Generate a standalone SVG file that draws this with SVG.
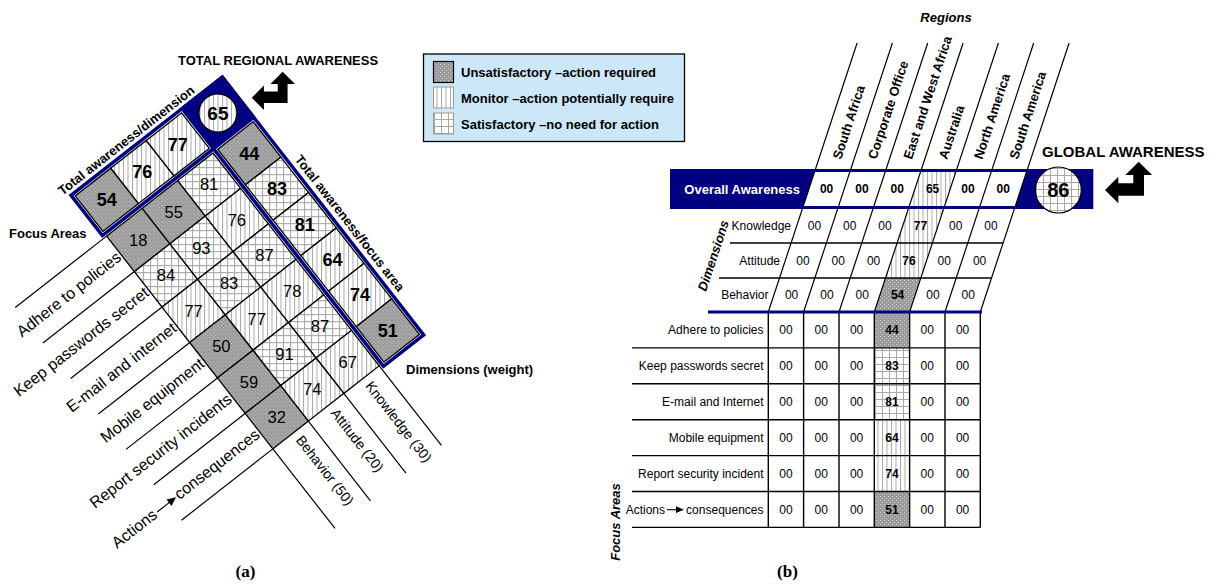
<svg xmlns="http://www.w3.org/2000/svg" width="1223" height="584" viewBox="0 0 1223 584">
<style>
text{font-family:"Liberation Sans",Arial,sans-serif;fill:#000}
.b{font-weight:bold}
.bi{font-weight:bold;font-style:italic}
.c{stroke:#000;stroke-width:1.3}
.ln{stroke:#000;stroke-width:1.2;fill:none}
.n{font-size:16.5px;text-anchor:middle}
.nb{font-size:18px;font-weight:bold;text-anchor:middle}
.fa{font-size:16px;text-anchor:end}
.dm{font-size:14px}
.t{font-size:12px;text-anchor:middle}
.tb{font-size:12px;font-weight:bold;text-anchor:middle}
.lab{font-size:12px;text-anchor:end}
.rg{font-size:13px;font-weight:bold}
.cap{font-family:"Liberation Serif","Times New Roman",serif;font-size:17px;font-weight:bold;text-anchor:middle}
</style>
<defs>
<pattern id="pU" width="4" height="4" patternUnits="userSpaceOnUse"><rect width="4" height="4" fill="#9a9a9a"/><rect width="1" height="1" fill="#d4d4d4"/><rect x="2" y="2" width="1" height="1" fill="#d4d4d4"/></pattern>
<pattern id="pM" width="4.5" height="10" patternUnits="userSpaceOnUse"><rect width="4.5" height="10" fill="#fff"/><rect width="1" height="10" fill="#a8a8a8"/></pattern>
<pattern id="pS" width="7" height="7" patternUnits="userSpaceOnUse"><rect width="7" height="7" fill="#fff"/><path d="M0,0.5H7M0.5,0V7" stroke="#a8a8a8" stroke-width="1"/></pattern>
<pattern id="pUr" href="#pU" patternTransform="rotate(-52)"/>
<pattern id="pMr" width="4.5" height="10" patternUnits="userSpaceOnUse" patternTransform="rotate(-52)"><rect width="4.5" height="10" fill="#fff"/><rect width="1" height="10" fill="#a8a8a8"/></pattern>
<pattern id="pSr" width="7" height="7" patternUnits="userSpaceOnUse" patternTransform="rotate(-52)"><rect width="7" height="7" fill="#fff"/><path d="M0,0.5H7M0.5,0V7" stroke="#a8a8a8" stroke-width="1"/></pattern>
<pattern id="pUr2" width="4" height="4" patternUnits="userSpaceOnUse" patternTransform="rotate(-52)"><rect width="4" height="4" fill="#9a9a9a"/><rect width="1" height="1" fill="#d4d4d4"/><rect x="2" y="2" width="1" height="1" fill="#d4d4d4"/></pattern>
<path id="arw" d="M0,28.3 L13.3,15 L13.3,21.6 L28.3,21.6 L28.3,13.3 L20.3,13.3 L33.7,0 L47.1,13.3 L39,13.3 L39,34 L13.3,34 L13.3,41.6 Z" fill="#000"/>
</defs>
<rect width="1223" height="584" fill="#fff"/>

<!-- Panel (a) -->
<g id="panel-a" transform="translate(213 153) rotate(52)">
 <g id="total-cell">
  <rect x="-55.75" y="-55.75" width="54.5" height="54.5" fill="#000080"/>
  <circle cx="-28.5" cy="-28.5" r="19" fill="url(#pMr)" stroke="#000" stroke-width="1.2"/>
  <text class="b" style="font-size:19px;text-anchor:middle" x="-28.5" y="-21.7" transform="rotate(-52 -28.5 -28.5)">65</text>
 </g>
 <g id="totals-focus">
  <rect class="c" x="0" y="-51" width="45" height="45" fill="url(#pUr2)"/>
  <rect class="c" x="45" y="-51" width="45" height="45" fill="url(#pSr)"/>
  <rect class="c" x="90" y="-51" width="45" height="45" fill="url(#pSr)"/>
  <rect class="c" x="135" y="-51" width="45" height="45" fill="url(#pMr)"/>
  <rect class="c" x="180" y="-51" width="45" height="45" fill="url(#pMr)"/>
  <rect class="c" x="225" y="-51" width="45" height="45" fill="url(#pUr2)"/>
  <text class="nb" x="22.5" y="-22.1" transform="rotate(-52 22.5 -28.5)">44</text>
  <text class="nb" x="67.5" y="-22.1" transform="rotate(-52 67.5 -28.5)">83</text>
  <text class="nb" x="112.5" y="-22.1" transform="rotate(-52 112.5 -28.5)">81</text>
  <text class="nb" x="157.5" y="-22.1" transform="rotate(-52 157.5 -28.5)">64</text>
  <text class="nb" x="202.5" y="-22.1" transform="rotate(-52 202.5 -28.5)">74</text>
  <text class="nb" x="247.5" y="-22.1" transform="rotate(-52 247.5 -28.5)">51</text>
 </g>
 <g id="totals-dimension">
  <rect class="c" x="-51" y="0" width="45" height="45" fill="url(#pMr)"/>
  <rect class="c" x="-51" y="45" width="45" height="45" fill="url(#pMr)"/>
  <rect class="c" x="-51" y="90" width="45" height="45" fill="url(#pUr2)"/>
  <text class="nb" x="-28.5" y="28.9" transform="rotate(-52 -28.5 22.5)">77</text>
  <text class="nb" x="-28.5" y="73.9" transform="rotate(-52 -28.5 67.5)">76</text>
  <text class="nb" x="-28.5" y="118.9" transform="rotate(-52 -28.5 112.5)">54</text>
 </g>
 <g id="cells">
  <rect class="c" x="0" y="0" width="45" height="45" fill="url(#pSr)"/>
  <rect class="c" x="45" y="0" width="45" height="45" fill="url(#pMr)"/>
  <rect class="c" x="90" y="0" width="45" height="45" fill="url(#pSr)"/>
  <rect class="c" x="135" y="0" width="45" height="45" fill="url(#pMr)"/>
  <rect class="c" x="180" y="0" width="45" height="45" fill="url(#pSr)"/>
  <rect class="c" x="225" y="0" width="45" height="45" fill="url(#pMr)"/>
  <rect class="c" x="0" y="45" width="45" height="45" fill="url(#pUr2)"/>
  <rect class="c" x="45" y="45" width="45" height="45" fill="url(#pSr)"/>
  <rect class="c" x="90" y="45" width="45" height="45" fill="url(#pSr)"/>
  <rect class="c" x="135" y="45" width="45" height="45" fill="url(#pMr)"/>
  <rect class="c" x="180" y="45" width="45" height="45" fill="url(#pSr)"/>
  <rect class="c" x="225" y="45" width="45" height="45" fill="url(#pMr)"/>
  <rect class="c" x="0" y="90" width="45" height="45" fill="url(#pUr2)"/>
  <rect class="c" x="45" y="90" width="45" height="45" fill="url(#pSr)"/>
  <rect class="c" x="90" y="90" width="45" height="45" fill="url(#pMr)"/>
  <rect class="c" x="135" y="90" width="45" height="45" fill="url(#pUr2)"/>
  <rect class="c" x="180" y="90" width="45" height="45" fill="url(#pUr2)"/>
  <rect class="c" x="225" y="90" width="45" height="45" fill="url(#pUr2)"/>
  <text class="n" x="22.5" y="28.4" transform="rotate(-52 22.5 22.5)">81</text>
  <text class="n" x="67.5" y="28.4" transform="rotate(-52 67.5 22.5)">76</text>
  <text class="n" x="112.5" y="28.4" transform="rotate(-52 112.5 22.5)">87</text>
  <text class="n" x="157.5" y="28.4" transform="rotate(-52 157.5 22.5)">78</text>
  <text class="n" x="202.5" y="28.4" transform="rotate(-52 202.5 22.5)">87</text>
  <text class="n" x="247.5" y="28.4" transform="rotate(-52 247.5 22.5)">67</text>
  <text class="n" x="22.5" y="73.4" transform="rotate(-52 22.5 67.5)">55</text>
  <text class="n" x="67.5" y="73.4" transform="rotate(-52 67.5 67.5)">93</text>
  <text class="n" x="112.5" y="73.4" transform="rotate(-52 112.5 67.5)">83</text>
  <text class="n" x="157.5" y="73.4" transform="rotate(-52 157.5 67.5)">77</text>
  <text class="n" x="202.5" y="73.4" transform="rotate(-52 202.5 67.5)">91</text>
  <text class="n" x="247.5" y="73.4" transform="rotate(-52 247.5 67.5)">74</text>
  <text class="n" x="22.5" y="118.4" transform="rotate(-52 22.5 112.5)">18</text>
  <text class="n" x="67.5" y="118.4" transform="rotate(-52 67.5 112.5)">84</text>
  <text class="n" x="112.5" y="118.4" transform="rotate(-52 112.5 112.5)">77</text>
  <text class="n" x="157.5" y="118.4" transform="rotate(-52 157.5 112.5)">50</text>
  <text class="n" x="202.5" y="118.4" transform="rotate(-52 202.5 112.5)">59</text>
  <text class="n" x="247.5" y="118.4" transform="rotate(-52 247.5 112.5)">32</text>
 </g>
 <polygon id="frame" points="-54,-54 273,-54 273,-3 -3,-3 -3,138 -54,138" fill="none" stroke="#000080" stroke-width="3.5"/>
 <g id="connectors-a">
  <path class="ln" d="M270,0H371M270,45H371M270,90H371M270,135H371"/>
  <path class="ln" d="M0,135V251M45,135V251M90,135V251M135,135V251M180,135V251M225,135V251M270,135V251"/>
 </g>
 <g id="labels-a">
  <text class="b" style="font-size:13px" transform="translate(-59 145) rotate(-90)">Total awareness/dimension</text>
  <text class="b" style="font-size:13px" x="55" y="-60">Total awareness/focus area</text>
  <text class="dm" x="277" y="24">Knowledge (30)</text>
  <text class="dm" x="277" y="68">Attitude (20)</text>
  <text class="dm" x="277" y="112">Behavior (50)</text>
  <text class="fa" transform="translate(28 137) rotate(-90)">Adhere to policies</text>
  <text class="fa" transform="translate(73 137) rotate(-90)">Keep passwords secret</text>
  <text class="fa" transform="translate(118 137) rotate(-90)">E-mail and internet</text>
  <text class="fa" transform="translate(163 137) rotate(-90)">Mobile equipment</text>
  <text class="fa" transform="translate(208 137) rotate(-90)">Report security incidents</text>
  <g transform="translate(253 137) rotate(-90)">
   <text class="fa" x="0" y="0">consequences</text>
   <path d="M-128,-4.5H-112" stroke="#000" stroke-width="1.2"/>
   <path d="M-104,-4.5L-113,-8.5L-113,-0.5Z" fill="#000"/>
   <text class="fa" x="-130" y="0">Actions</text>
  </g>
 </g>
</g>
<text class="b" style="font-size:13px" x="9" y="238">Focus Areas</text>
<text class="b" style="font-size:13px" x="406" y="374">Dimensions (weight)</text>
<text class="b" style="font-size:13px" x="178" y="65">TOTAL REGIONAL AWARENESS</text>
<use href="#arw" transform="translate(251.7 71.7) scale(0.92)"/>
<text class="cap" x="245.5" y="577">(a)</text>

<!-- Legend -->
<g id="legend">
 <rect x="423.5" y="54" width="261" height="87.5" fill="#cce8f8" stroke="#000" stroke-width="1.3"/>
 <rect x="433.5" y="61.5" width="20" height="21" fill="url(#pU)" stroke="#000" stroke-width="1.2"/>
 <rect x="433.5" y="87" width="20" height="21" fill="url(#pM)" stroke="#999" stroke-width="1"/>
 <rect x="433.5" y="113" width="20" height="21" fill="url(#pS)" stroke="#999" stroke-width="1"/>
 <text class="b" style="font-size:13px" x="461" y="77">Unsatisfactory –action required</text>
 <text class="b" style="font-size:13px" x="461" y="103">Monitor –action potentially require</text>
 <text class="b" style="font-size:13px" x="461" y="129">Satisfactory –no need for action</text>
</g>

<!-- Panel (b) -->
<g id="panel-b">
 <g id="overall-row">
  <rect x="670" y="169" width="423.3" height="40" fill="#000080"/>
  <polygon points="814.5,172 1026.5,172 1015.3,206 803.3,206" fill="#fff"/>
  <polygon points="920.5,172 955.8,172 944.6,206 909.3,206" fill="url(#pM)"/>
  <text class="b" style="font-size:13px;text-anchor:end;fill:#fff" x="800" y="193.5">Overall Awareness</text>
  <circle cx="1058.3" cy="190" r="23" fill="url(#pS)" stroke="#000" stroke-width="1.2"/>
  <text class="b" style="font-size:20px;text-anchor:middle" x="1058.3" y="197">86</text>
 </g>
 <g id="dimension-rows">
  <polygon points="908.3,209 943.6,209 932.4,243 897.1,243" fill="url(#pM)"/>
  <polygon points="897.1,243 932.4,243 920.8,278 885.5,278" fill="url(#pM)"/>
  <polygon points="885.5,278 920.8,278 909.6,312 874.3,312" fill="url(#pU)"/>
 </g>
 <g id="focus-table">
  <rect x="874.3" y="312" width="35.3" height="35.9" fill="url(#pU)"/>
  <rect x="874.3" y="347.9" width="35.3" height="35.9" fill="url(#pS)"/>
  <rect x="874.3" y="383.8" width="35.3" height="35.9" fill="url(#pS)"/>
  <rect x="874.3" y="419.7" width="35.3" height="35.9" fill="url(#pM)"/>
  <rect x="874.3" y="455.6" width="35.3" height="35.9" fill="url(#pM)"/>
  <rect x="874.3" y="491.5" width="35.3" height="35.9" fill="url(#pU)"/>
 </g>
 <g id="connectors-b">
  <path d="M857.1,43L768.3,312M892.4,43L803.6,312M927.7,43L839,312M963.1,43L874.3,312M998.4,43L909.6,312M1033.7,43L945,312M1069.1,43L980.3,312" stroke="#000" stroke-width="1.2" fill="none"/>
  <path d="M730,243H1003.1M719,278H991.5" stroke="#000" stroke-width="1.4" fill="none"/>
  <path d="M768.3,312V527.4M803.6,312V527.4M839,312V527.4M874.3,312V527.4M909.6,312V527.4M945,312V527.4M980.3,312V527.4" stroke="#000" stroke-width="1.4" fill="none"/>
  <path d="M632,347.9H980.3M632,383.8H980.3M632,419.7H980.3M632,455.6H980.3M632,491.5H980.3M632,527.4H980.3" stroke="#000" stroke-width="1.4" fill="none"/>
  <path d="M708,312H982" stroke="#000080" stroke-width="3" fill="none"/>
 </g>
 <g id="values-b">
  <text class="tb" x="826.6" y="193.3">00</text><text class="tb" x="861.9" y="193.3">00</text><text class="tb" x="897.2" y="193.3">00</text><text class="tb" x="932.6" y="193.3">65</text><text class="tb" x="967.9" y="193.3">00</text><text class="tb" x="1003.2" y="193.3">00</text>
  <text class="t" x="814.4" y="230.3">00</text><text class="t" x="849.7" y="230.3">00</text><text class="t" x="885" y="230.3">00</text><text class="tb" x="920.4" y="230.3">77</text><text class="t" x="955.7" y="230.3">00</text><text class="t" x="991" y="230.3">00</text>
  <text class="t" x="803" y="264.8">00</text><text class="t" x="838.3" y="264.8">00</text><text class="t" x="873.6" y="264.8">00</text><text class="tb" x="909" y="264.8">76</text><text class="t" x="944.3" y="264.8">00</text><text class="t" x="979.6" y="264.8">00</text>
  <text class="t" x="791.6" y="299.3">00</text><text class="t" x="826.9" y="299.3">00</text><text class="t" x="862.2" y="299.3">00</text><text class="tb" x="897.6" y="299.3">54</text><text class="t" x="932.9" y="299.3">00</text><text class="t" x="968.2" y="299.3">00</text>
  <text class="t" x="786" y="334.3">00</text><text class="t" x="821.3" y="334.3">00</text><text class="t" x="856.6" y="334.3">00</text><text class="tb" x="892" y="334.3">44</text><text class="t" x="927.3" y="334.3">00</text><text class="t" x="962.6" y="334.3">00</text>
  <text class="t" x="786" y="370.2">00</text><text class="t" x="821.3" y="370.2">00</text><text class="t" x="856.6" y="370.2">00</text><text class="tb" x="892" y="370.2">83</text><text class="t" x="927.3" y="370.2">00</text><text class="t" x="962.6" y="370.2">00</text>
  <text class="t" x="786" y="406.1">00</text><text class="t" x="821.3" y="406.1">00</text><text class="t" x="856.6" y="406.1">00</text><text class="tb" x="892" y="406.1">81</text><text class="t" x="927.3" y="406.1">00</text><text class="t" x="962.6" y="406.1">00</text>
  <text class="t" x="786" y="441.9">00</text><text class="t" x="821.3" y="441.9">00</text><text class="t" x="856.6" y="441.9">00</text><text class="tb" x="892" y="441.9">64</text><text class="t" x="927.3" y="441.9">00</text><text class="t" x="962.6" y="441.9">00</text>
  <text class="t" x="786" y="477.8">00</text><text class="t" x="821.3" y="477.8">00</text><text class="t" x="856.6" y="477.8">00</text><text class="tb" x="892" y="477.8">74</text><text class="t" x="927.3" y="477.8">00</text><text class="t" x="962.6" y="477.8">00</text>
  <text class="t" x="786" y="513.7">00</text><text class="t" x="821.3" y="513.7">00</text><text class="t" x="856.6" y="513.7">00</text><text class="tb" x="892" y="513.7">51</text><text class="t" x="927.3" y="513.7">00</text><text class="t" x="962.6" y="513.7">00</text>
 </g>
 <g id="labels-b">
  <text class="bi" style="font-size:13px;text-anchor:middle" x="946" y="22">Regions</text>
  <text class="rg" transform="translate(841 160) rotate(-71.7)">South Africa</text>
  <text class="rg" transform="translate(876.3 160) rotate(-71.7)">Corporate Office</text>
  <text class="rg" transform="translate(911.7 160) rotate(-71.7)">East and West Africa</text>
  <text class="rg" transform="translate(947 160) rotate(-71.7)">Australia</text>
  <text class="rg" transform="translate(982.3 160) rotate(-71.7)">North America</text>
  <text class="rg" transform="translate(1017.7 160) rotate(-71.7)">South America</text>
  <text class="b" style="font-size:15px" x="1042" y="157">GLOBAL AWARENESS</text>
  <text class="bi" style="font-size:13px" transform="translate(706 292) rotate(-71.7)">Dimensions</text>
  <text class="lab" x="791" y="230.3">Knowledge</text>
  <text class="lab" x="780" y="264.8">Attitude</text>
  <text class="lab" x="768.5" y="299.3">Behavior</text>
  <text class="lab" x="763.5" y="334.3">Adhere to policies</text>
  <text class="lab" x="763.5" y="370.2">Keep passwords secret</text>
  <text class="lab" x="763.5" y="406.1">E-mail and Internet</text>
  <text class="lab" x="763.5" y="441.9">Mobile equipment</text>
  <text class="lab" x="763.5" y="477.8">Report security incident</text>
  <text class="lab" x="763.5" y="513.7">consequences</text>
  <path d="M667,509.7H677" stroke="#000" stroke-width="1.1"/>
  <path d="M684,509.7L676,506.3L676,513.1Z" fill="#000"/>
  <text class="lab" x="665" y="513.7">Actions</text>
  <text class="bi" style="font-size:13px;text-anchor:middle" transform="translate(620 522) rotate(-90)">Focus Areas</text>
 </g>
 <use href="#arw" transform="translate(1105 161.7)"/>
 <text class="cap" x="787.5" y="577">(b)</text>
</g>
</svg>
